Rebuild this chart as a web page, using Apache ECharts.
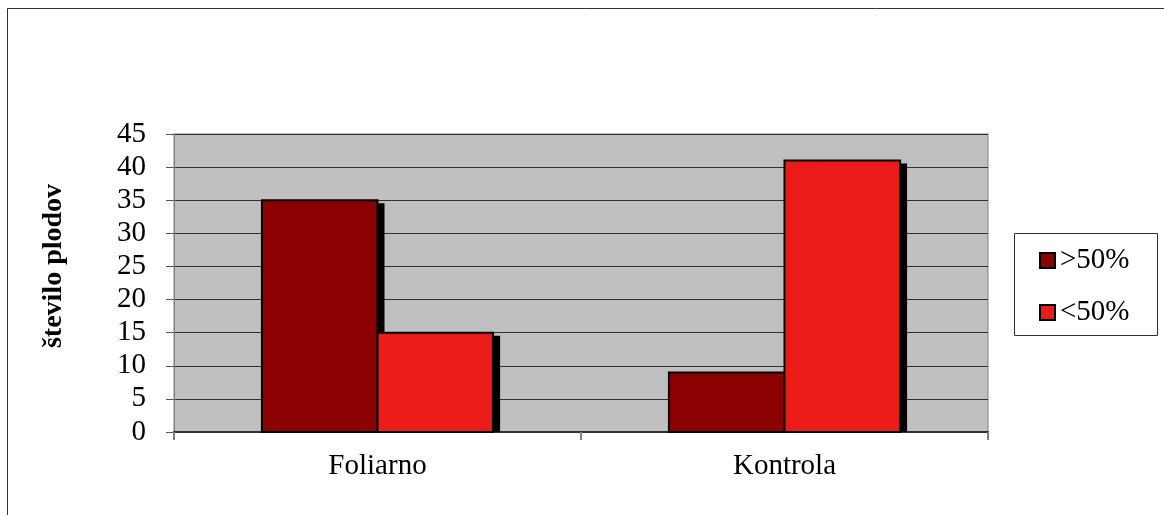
<!DOCTYPE html>
<html>
<head>
<meta charset="utf-8">
<script src="https://cdn.jsdelivr.net/npm/echarts@6/dist/echarts.min.js"></script>
<style>
  html, body { margin: 0; padding: 0; background: #fff; }
  #chart { width: 1164px; height: 515px; }
</style>
</head>
<body>
<div id="chart"></div>
<script>
// Fruit counts per treatment
const categories = ['Foliarno', 'Kontrola'];
const seriesNames = ['>50%', '<50%'];
const above50 = [35, 9];
const below50 = [15, 41];
const yMin = 0, yMax = 45, yStep = 5;
const yTitle = 'število plodov';

const colors = ['#8B0000', '#EB1C18'];
const FONT = "'Liberation Serif', 'Times New Roman', serif";
const BAR_FRACTION = 0.284;   // share of a category band taken by one bar
const SHADOW_DX = 6, SHADOW_DY = 4;

// Bars with a hard drop shadow, clipped to the plot area
function barRenderer(seriesIndex) {
  return function (params, api) {
    const cat = api.value(0);
    const val = api.value(1);
    const base = api.coord([cat, 0]);
    const top = api.coord([cat, val]);
    const band = api.size([1, 0])[0];
    const w = band * BAR_FRACTION;
    const left = base[0] - w + seriesIndex * w;
    const cs = params.coordSys;
    const area = { x: cs.x, y: cs.y, width: cs.width, height: cs.height };
    const shadow = echarts.graphic.clipRectByRect(
      { x: left - 1 + SHADOW_DX, y: top[1] - 1 + SHADOW_DY, width: w + 2, height: base[1] - top[1] + 2 },
      area
    );
    const children = [];
    if (shadow) {
      children.push({ type: 'rect', shape: shadow, style: { fill: '#000' } });
    }
    children.push({
      type: 'rect',
      shape: { x: left, y: top[1], width: w, height: base[1] - top[1] },
      style: { fill: colors[seriesIndex], stroke: '#000', lineWidth: 2 }
    });
    return { type: 'group', children: children };
  };
}

const seriesValues = [above50, below50];

const option = {
  animation: false,
  backgroundColor: '#fff',
  textStyle: { fontFamily: FONT },
  grid: {
    left: 174, top: 134, right: 176, bottom: 83,
    show: true, backgroundColor: '#C0C0C0', borderColor: '#808080', borderWidth: 1
  },
  xAxis: {
    type: 'category',
    data: categories,
    boundaryGap: true,
    axisLine: { lineStyle: { color: '#303030', width: 2 } },
    axisTick: { show: true, length: 8, lineStyle: { color: '#808080', width: 2 } },
    axisLabel: { color: '#000', fontFamily: FONT, fontSize: 29, margin: 20 },
    splitLine: { show: false }
  },
  yAxis: {
    type: 'value',
    min: yMin, max: yMax, interval: yStep,
    axisLine: { show: true, lineStyle: { color: '#808080', width: 1 } },
    axisTick: { show: true, inside: false, length: 8, lineStyle: { color: '#555', width: 1 } },
    axisLabel: { color: '#000', fontFamily: FONT, fontSize: 29, margin: 28 },
    splitLine: { show: true, lineStyle: { color: '#303030', width: 1 } }
  },
  legend: {
    orient: 'vertical',
    left: 1039, top: 246, padding: 0,
    itemWidth: 15, itemHeight: 15, itemGap: 23,
    textStyle: { color: '#000', fontFamily: FONT, fontSize: 29, lineHeight: 29 },
    data: seriesNames.map((n, i) => ({
      name: n, icon: 'rect',
      itemStyle: { color: colors[i], borderColor: '#000', borderWidth: 2 }
    }))
  },
  graphic: [
    // outer chart frame
    { type: 'rect', silent: true, z: -10,
      shape: { x: 7.5, y: 8.5, width: 1300, height: 700 },
      style: { fill: 'none', stroke: '#303030', lineWidth: 1 } },
    // legend frame
    { type: 'rect', silent: true, z: -5,
      shape: { x: 1014.5, y: 233.5, width: 143, height: 102 },
      style: { fill: '#fff', stroke: '#303030', lineWidth: 1 } },
    // value axis title
    { type: 'text', silent: true, x: 54, y: 266, rotation: Math.PI / 2,
      style: { text: yTitle, fontFamily: FONT, fontWeight: 'bold', fontSize: 28,
               fill: '#000', align: 'center', verticalAlign: 'middle' } }
  ],
  series: seriesValues.map((vals, i) => ({
    type: 'custom',
    name: seriesNames[i],
    itemStyle: { color: colors[i] },
    encode: { x: 0, y: 1 },
    data: vals.map((v, k) => [k, v]),
    renderItem: barRenderer(i)
  }))
};

const chart = echarts.init(document.getElementById('chart'), null, { renderer: 'canvas' });
chart.setOption(option);
</script>
</body>
</html>
